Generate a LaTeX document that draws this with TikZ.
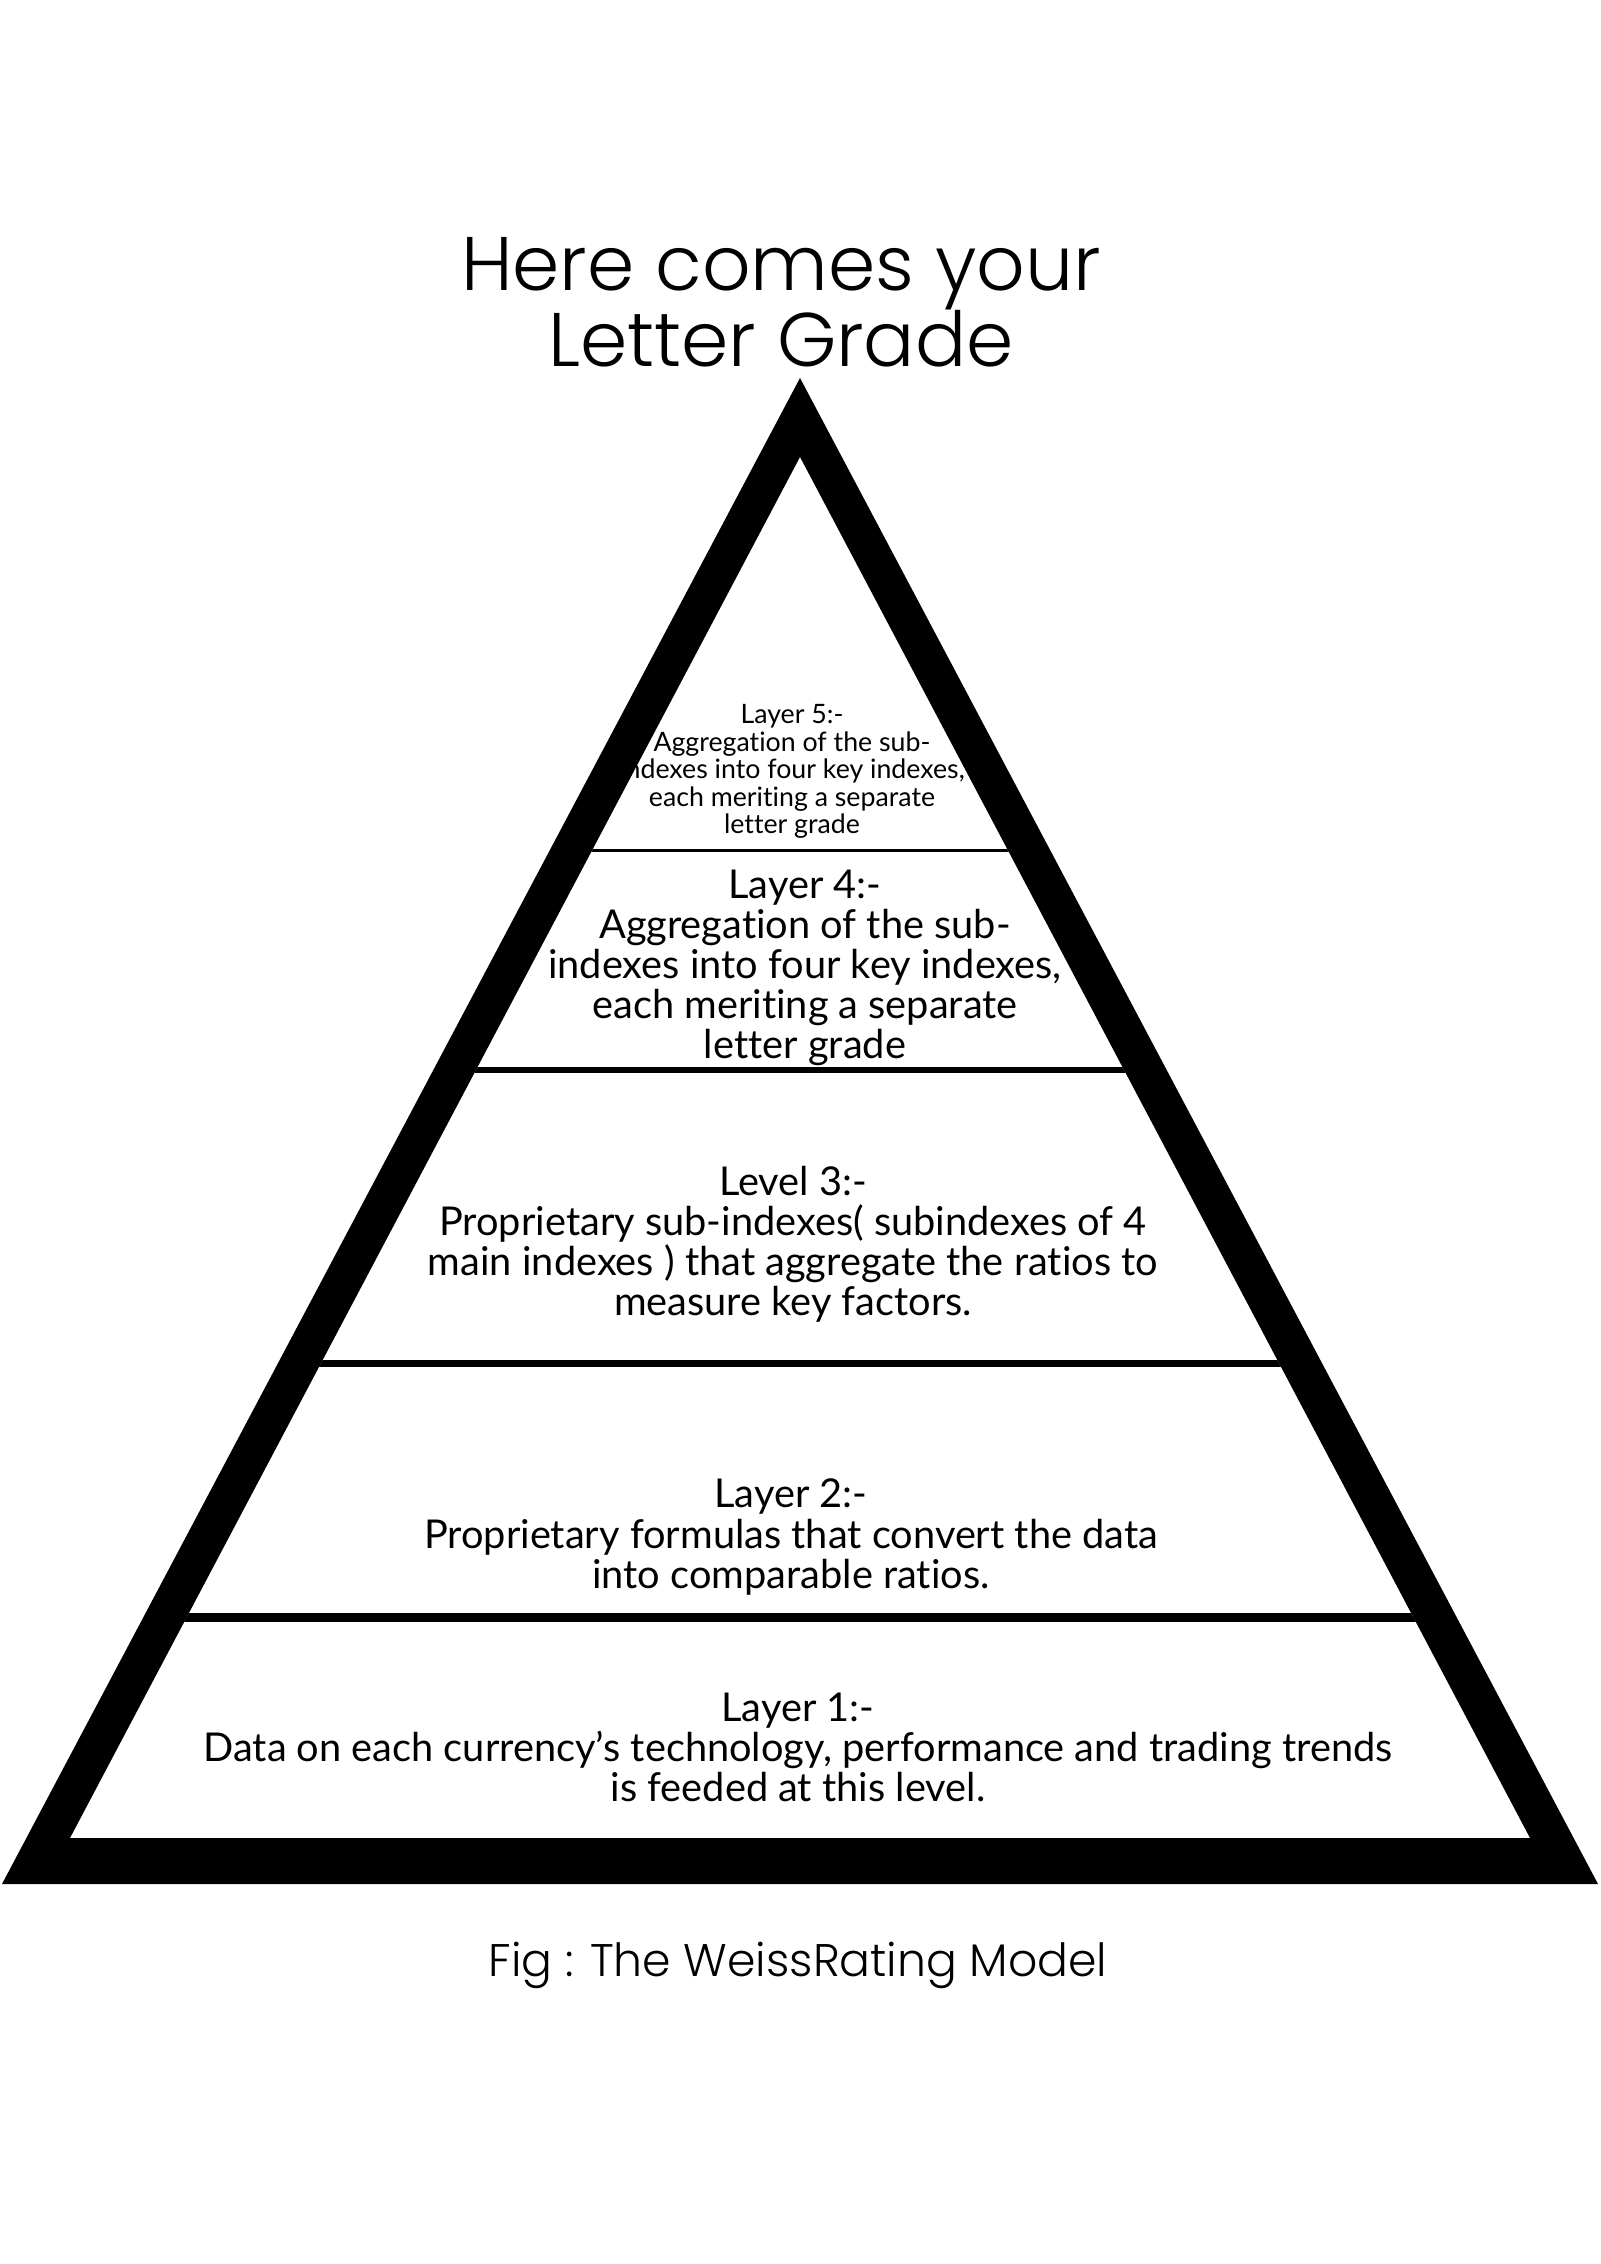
\documentclass[tikz,border=0pt]{standalone}
\usepackage{fontspec}
\setmainfont{Lato}[Ligatures=NoCommon]
\newfontfamily\gradefont{Poppins}[UprightFont=* Light]
\usetikzlibrary{positioning}
\tikzstyle{heading} = [font=\gradefont\fontsize{21.6}{21.6}\selectfont, align=center, inner sep=0pt]
\tikzstyle{caption} = [font=\gradefont\fontsize{13}{13}\selectfont, inner sep=0pt, anchor=base]
\tikzstyle{layer} = [font=\fontsize{11.3}{11.4}\selectfont, align=center, inner sep=0pt]
\tikzstyle{toplayer} = [font=\fontsize{7.6}{7.8}\selectfont, align=center, inner sep=0pt]
\tikzstyle{frame} = [fill=black, even odd rule]

\begin{document}
\begin{tikzpicture}[x=0.01cm, y=-0.01cm]

\fill[white] (0,0) rectangle (1600,2264);

% corners of the pyramid
\coordinate (outTop) at (800,378);
\coordinate (outLeft) at (2,1884);
\coordinate (outRight) at (1598,1884);
\coordinate (inTop) at (800,457);
\coordinate (inLeft) at (70,1838);
\coordinate (inRight) at (1530,1838);

\node (title) [heading] at (781,302) {Here comes your\\Letter Grade};

\node (l5) [toplayer] at (792,771.5) {Layer 5:-\\Aggregation of the sub-\\indexes into four key indexes,\\each meriting a separate\\letter grade};
\node (l4) [layer] at (805,968) {Layer 4:-\\Aggregation of the sub-\\indexes into four key indexes,\\each meriting a separate\\letter grade};
\node (l3) [layer] at (793,1244) {Level 3:-\\Proprietary sub-indexes( subindexes of 4\\main indexes ) that aggregate the ratios to\\measure key factors.};
\node (l2) [layer] at (791,1537) {Layer 2:-\\Proprietary formulas that convert the data\\into comparable ratios.};
\node (l1) [layer] at (798,1747) {Layer 1:-\\Data on each currency’s technology, performance and trading trends\\is feeded at this level.};

% dividers between the layers
\begin{scope}
\clip (inTop) -- (inLeft) -- (inRight) -- cycle;
\draw[line width=0.85pt] (0,850.5) -- (1600,850.5);
\draw[line width=1.56pt] (0,1070) -- (1600,1070);
\draw[line width=2pt] (0,1363.5) -- (1600,1363.5);
\draw[line width=2.56pt] (0,1617.5) -- (1600,1617.5);
\end{scope}

\fill[frame] (outTop) -- (outLeft) -- (outRight) -- cycle (inTop) -- (inLeft) -- (inRight) -- cycle;

\node (fig) [caption] at (798,1976) {Fig : The WeissRating Model};

\end{tikzpicture}
\end{document}
